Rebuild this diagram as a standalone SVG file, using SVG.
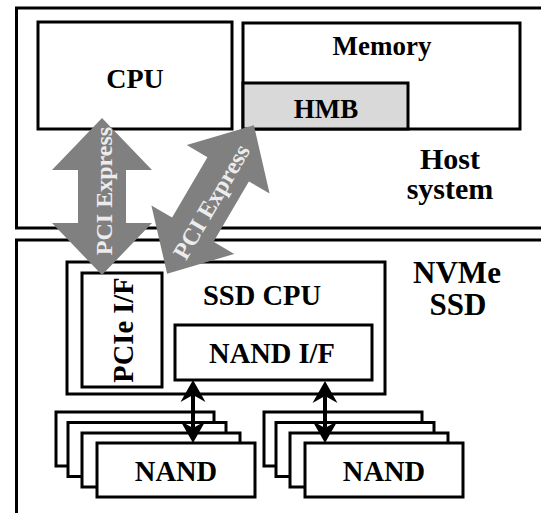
<svg xmlns="http://www.w3.org/2000/svg" width="541" height="513" viewBox="0 0 541 513">
  <style>
    .box { fill: #ffffff; stroke: #000000; stroke-width: 3; }
    .hmb { fill: #d9d9d9; stroke: #000000; stroke-width: 3; }
    .lbl { font-family: "Liberation Serif", "Times New Roman", serif; font-weight: bold; fill: #000000; text-anchor: middle; }
    .bus { fill: #808080; }
    .bustxt { font-family: "Liberation Serif", "Times New Roman", serif; font-weight: bold; font-size: 24px; fill: #ececec; text-anchor: middle; }
    .link { stroke: #000000; stroke-width: 4; fill: none; marker-start: url(#head); marker-end: url(#head); }
  </style>
  <defs>
    <marker id="head" markerUnits="userSpaceOnUse" viewBox="-23 -13 24 26" refX="-10" refY="0" markerWidth="24" markerHeight="26" orient="auto-start-reverse">
      <path d="M0,0 L-22,-12.5 L-15,0 L-22,12.5 Z" fill="#000000"/>
    </marker>
    <!-- double-headed bus arrow, drawn along +x and centred on the origin -->
    <polygon id="busShape" points="86,0 35,-48 35,-24 -35,-24 -35,-48 -86,0 -35,48 -35,24 35,24 35,48"/>
  </defs>

  <!-- host side -->
  <g id="host-system">
    <rect class="box" x="16.5" y="8" width="540" height="220"/>
    <text class="lbl" x="450" y="169" font-size="30">Host</text>
    <text class="lbl" x="450" y="199" font-size="30">system</text>
  </g>
  <g id="cpu">
    <rect class="box" x="38" y="22" width="194" height="107"/>
    <text class="lbl" x="135" y="88" font-size="28">CPU</text>
  </g>
  <g id="memory">
    <rect class="box" x="243" y="23" width="277" height="106"/>
    <text class="lbl" x="382" y="55" font-size="27">Memory</text>
  </g>
  <g id="hmb">
    <rect class="hmb" x="243" y="83" width="165" height="46"/>
    <text class="lbl" x="326" y="118" font-size="27">HMB</text>
  </g>

  <!-- SSD side -->
  <g id="nvme-ssd">
    <rect class="box" x="16.5" y="240" width="540" height="300"/>
    <text class="lbl" x="457" y="283" font-size="31">NVMe</text>
    <text class="lbl" x="458" y="315" font-size="31">SSD</text>
  </g>
  <g id="ssd-cpu">
    <rect class="box" x="67" y="262" width="318" height="132"/>
    <text class="lbl" x="262" y="305" font-size="28.5">SSD CPU</text>
  </g>
  <g id="pcie-if">
    <rect class="box" x="82" y="273" width="80" height="114"/>
    <text class="lbl" font-size="28.5" transform="translate(133,330) rotate(-90)">PCIe I/F</text>
  </g>
  <g id="nand-if">
    <rect class="box" x="175" y="325" width="197" height="55"/>
    <text class="lbl" x="272" y="363" font-size="28.5">NAND I/F</text>
  </g>

  <g id="nand-stack-1">
    <rect class="box" x="56" y="412" width="158" height="54"/>
    <rect class="box" x="68" y="422.5" width="158" height="54"/>
    <rect class="box" x="82" y="433" width="158" height="54"/>
    <rect class="box" x="97" y="443" width="158" height="54"/>
    <text class="lbl" x="176" y="481" font-size="28.5">NAND</text>
  </g>
  <g id="nand-stack-2">
    <rect class="box" x="264" y="412" width="158" height="54"/>
    <rect class="box" x="276" y="422.5" width="158" height="54"/>
    <rect class="box" x="290" y="433" width="158" height="54"/>
    <rect class="box" x="305" y="443" width="158" height="54"/>
    <text class="lbl" x="384" y="481" font-size="28.5">NAND</text>
  </g>

  <g id="connectors">
    <!-- channels between NAND I/F and the flash packages -->
    <line class="link" x1="193" y1="390" x2="193" y2="433"/>
    <line class="link" x1="325" y1="391" x2="325" y2="433"/>

    <!-- PCI Express links to CPU and host memory buffer -->
    <g transform="translate(102,196.5) rotate(-90)">
      <polygon class="bus" points="78.5,0 26.5,-50 26.5,-24 -26.5,-24 -26.5,-50 -78.5,0 -26.5,50 -26.5,24 26.5,24 26.5,50"/>
      <text class="bustxt" x="5.5" y="10">PCI Express</text>
    </g>
    <g transform="translate(210.5,199.5) rotate(-59.7)">
      <use href="#busShape" class="bus"/>
      <text class="bustxt" x="-1.5" y="10">PCI Express</text>
    </g>
  </g>
</svg>
